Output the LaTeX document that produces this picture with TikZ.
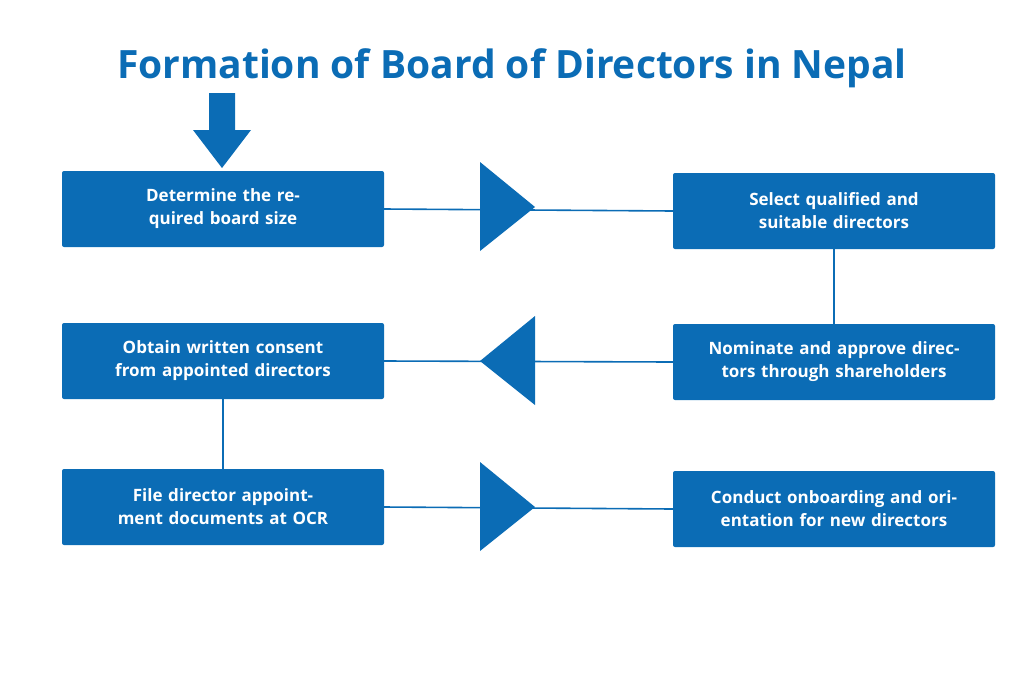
\documentclass[tikz,border=0pt]{standalone}
\usepackage{fontspec}
\setmainfont{Open Sans}
\definecolor{blu}{HTML}{0B6CB5}
\begin{document}
\begin{tikzpicture}[x=1pt,y=-1pt,
box/.style={fill=blu,rounded corners=2pt,minimum width=322pt,minimum height=76pt,text width=290pt,align=center,text=white,font=\fontsize{17}{23}\selectfont\bfseries},
ln/.style={blu,line width=1.6pt},
tri/.style={fill=blu}]
\useasboundingbox (0,0) rectangle (1024,683);
\node[text=blu,font=\fontsize{39}{44}\selectfont\bfseries] (title) at (512,68) {Formation of Board of Directors in Nepal};
\fill[blu] (209,93) -- (235,93) -- (235,130) -- (251,130) -- (222,168) -- (193,130) -- (209,130) -- cycle;
\node[box] (b1) at (223,209) {Determine the required board size};
\node[box] (b2) at (834,211) {Select qualified and suitable directors};
\node[box] (b3) at (223,361) {Obtain written consent from appointed directors};
\node[box] (b4) at (834,362) {Nominate and approve directors through shareholders};
\node[box] (b5) at (223,507) {File director appointment documents at OCR};
\node[box] (b6) at (834,509) {Conduct onboarding and orientation for new directors};
\draw[ln] (b1.east) -- (b2.west);
\draw[ln] (b2.south) -- (b4.north);
\draw[ln] (b4.west) -- (b3.east);
\draw[ln] (b3.south) -- (b5.north);
\draw[ln] (b5.east) -- (b6.west);
\fill[tri] (480,162) -- (535,207) -- (480,251) -- cycle;
\fill[tri] (535,316) -- (480,361) -- (535,405) -- cycle;
\fill[tri] (480,462) -- (535,507) -- (480,551) -- cycle;
\end{tikzpicture}
\end{document}
